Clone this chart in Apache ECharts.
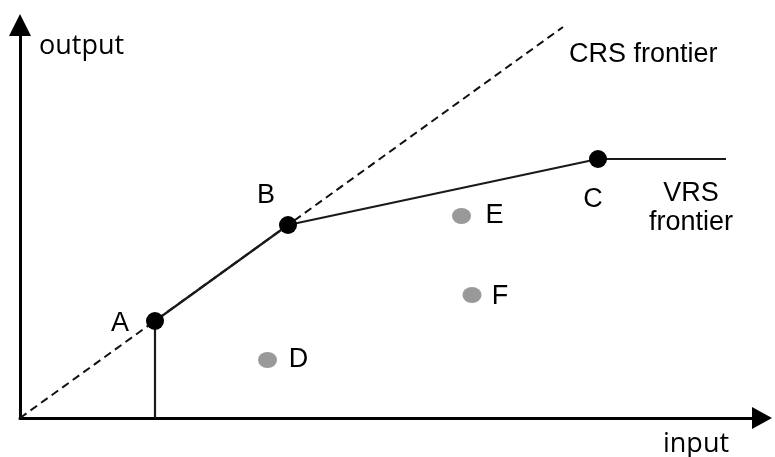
<!DOCTYPE html>
<html>
<head>
<meta charset="utf-8">
<script src="https://cdn.jsdelivr.net/npm/echarts@6/dist/echarts.min.js"></script>
<style>
  html, body { margin: 0; padding: 0; background: #fff; }
  #chart { width: 775px; height: 457px; }
</style>
</head>
<body>
<div id="chart"></div>
<script>
// Decision-making units on the frontier (input, output)
const frontierNames = ['A', 'B', 'C'];
const frontierInput = [2.70, 5.36, 11.56];
const frontierOutput = [1.94, 3.86, 5.18];

// Units inside the frontier
const innerNames = ['D', 'E', 'F'];
const innerInput = [4.95, 8.83, 9.04];
const innerOutput = [1.16, 4.04, 2.46];

// Constant-returns ray from the origin through A and B
const crsInput = [0, 10.86];
const crsOutput = [0, 7.82];

// Variable-returns frontier: vertical rise to A, then A-B-C, then flat
const vrsInput = [2.70, 2.70, 5.36, 11.56, 14.12];
const vrsOutput = [0, 1.94, 3.86, 5.18, 5.18];

const xMax = 14.84;
const yMax = 7.86;

// Label offsets (px) relative to each marker
const frontierOffsets = [[-35, 3], [-22, -29], [-5, 41]];
const innerOffsets = [[31, 0], [33, 0], [28, 2]];

const labelFont = '"Liberation Sans", Arial, sans-serif';
const axisFont = '"Open Sans", "Noto Sans", sans-serif';

const zip = (xs, ys) => xs.map((x, i) => [x, ys[i]]);

const chart = echarts.init(document.getElementById('chart'), null, { renderer: 'canvas' });

const pointLabel = {
  show: true, position: 'inside', formatter: '{b}',
  color: '#000', fontSize: 27, fontFamily: labelFont, textBorderWidth: 0
};

chart.setOption({
  animation: false,
  backgroundColor: '#ffffff',
  grid: { left: 20, right: 13, top: 25, bottom: 39, containLabel: false },
  xAxis: {
    type: 'value', min: 0, max: xMax,
    axisLine: {
      show: true, onZero: false,
      symbol: ['none', 'triangle'], symbolSize: [22, 20],
      lineStyle: { color: '#000', width: 3 }
    },
    axisTick: { show: false }, axisLabel: { show: false }, splitLine: { show: false }
  },
  yAxis: {
    type: 'value', min: 0, max: yMax,
    axisLine: {
      show: true, onZero: false,
      symbol: ['none', 'triangle'], symbolSize: [22, 22],
      lineStyle: { color: '#000', width: 3 }
    },
    axisTick: { show: false }, axisLabel: { show: false }, splitLine: { show: false }
  },
  series: [
    {
      name: 'CRS frontier', type: 'line', silent: true, showSymbol: false,
      data: zip(crsInput, crsOutput), clip: false,
      lineStyle: { color: '#111', width: 2, type: [8, 5] }, z: 2
    },
    {
      name: 'VRS frontier', type: 'line', silent: true, showSymbol: false,
      data: zip(vrsInput, vrsOutput),
      lineStyle: { color: '#1a1a1a', width: 2.2 }, z: 3
    },
    {
      name: 'frontier units', type: 'scatter', symbol: 'circle', symbolSize: 18,
      itemStyle: { color: '#000', opacity: 1 }, z: 5,
      data: frontierNames.map((n, i) => ({
        name: n, value: [frontierInput[i], frontierOutput[i]],
        label: { offset: frontierOffsets[i] }
      })),
      label: pointLabel
    },
    {
      name: 'inner units', type: 'scatter', symbol: 'circle', symbolSize: [19, 16],
      itemStyle: { color: '#999999', opacity: 1 }, z: 5,
      data: innerNames.map((n, i) => ({
        name: n, value: [innerInput[i], innerOutput[i]],
        label: { offset: innerOffsets[i] }
      })),
      label: pointLabel
    }
  ],
  graphic: [
    { type: 'text', x: 39, y: 46, style: { text: 'output', fill: '#000', font: '27px ' + axisFont, textVerticalAlign: 'middle' } },
    { type: 'text', x: 663, y: 444, style: { text: 'input', fill: '#000', font: '27px ' + axisFont, textVerticalAlign: 'middle' } },
    { type: 'text', x: 569, y: 55, style: { text: 'CRS frontier', fill: '#000', font: '27px ' + labelFont, textVerticalAlign: 'middle' } },
    { type: 'text', x: 691, y: 194, style: { text: 'VRS', fill: '#000', font: '27px ' + labelFont, textAlign: 'center', textVerticalAlign: 'middle' } },
    { type: 'text', x: 691, y: 223, style: { text: 'frontier', fill: '#000', font: '27px ' + labelFont, textAlign: 'center', textVerticalAlign: 'middle' } }
  ]
});
</script>
</body>
</html>
